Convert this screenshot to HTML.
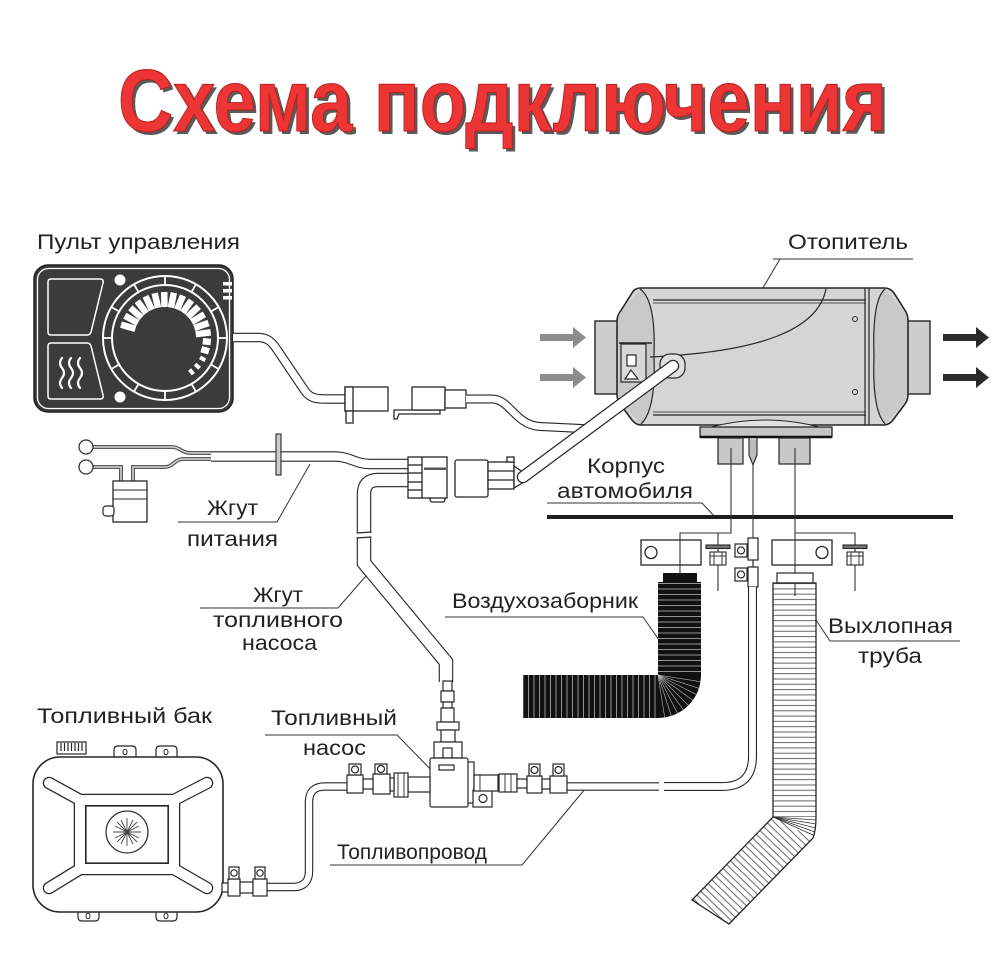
<!DOCTYPE html>
<html><head><meta charset="utf-8"><style>
html,body{margin:0;padding:0;background:#fff;}
svg{display:block;}
text{font-family:"Liberation Sans",sans-serif;fill:#222;}
.lb{font-size:21px;}
</style></head><body>
<svg width="1000" height="971" viewBox="0 0 1000 971" xmlns="http://www.w3.org/2000/svg">
<defs>
<pattern id="exH" patternUnits="userSpaceOnUse" width="10" height="5.3"><rect width="10" height="5.3" fill="#fff"/><line x1="0" y1="0.6" x2="10" y2="0.6" stroke="#555" stroke-width="0.9"/></pattern>
<pattern id="exA" patternUnits="userSpaceOnUse" width="10" height="5.3" patternTransform="rotate(44)"><rect width="10" height="5.3" fill="#fff"/><line x1="0" y1="0.6" x2="10" y2="0.6" stroke="#555" stroke-width="0.9"/></pattern>
<pattern id="inH" patternUnits="userSpaceOnUse" width="10" height="5.5"><rect width="10" height="5.5" fill="#111"/><line x1="0" y1="0.5" x2="10" y2="0.5" stroke="#ccc" stroke-width="0.7"/></pattern>
<pattern id="inV" patternUnits="userSpaceOnUse" width="5.5" height="10"><rect width="5.5" height="10" fill="#111"/><line x1="0.5" y1="0" x2="0.5" y2="10" stroke="#ccc" stroke-width="0.7"/></pattern>
</defs>

<!-- Title -->
<text x="121" y="134" font-size="88" font-weight="bold" style="fill:#5a5a5a" textLength="769" lengthAdjust="spacingAndGlyphs">Схема подключения</text>
<text x="118" y="131" font-size="88" font-weight="bold" style="fill:#ee3535" stroke="#b81f1f" stroke-width="1" textLength="769" lengthAdjust="spacingAndGlyphs">Схема подключения</text>

<!-- Labels -->
<text class="lb" x="37" y="249" textLength="203" lengthAdjust="spacingAndGlyphs">Пульт управления</text>
<text class="lb" x="788" y="249" textLength="120" lengthAdjust="spacingAndGlyphs">Отопитель</text>
<text class="lb" x="587" y="473" textLength="78" lengthAdjust="spacingAndGlyphs">Корпус</text>
<text class="lb" x="557" y="498" textLength="136" lengthAdjust="spacingAndGlyphs">автомобиля</text>
<text class="lb" x="207" y="515" textLength="51" lengthAdjust="spacingAndGlyphs">Жгут</text>
<text class="lb" x="187" y="546" textLength="91" lengthAdjust="spacingAndGlyphs">питания</text>
<text class="lb" x="253" y="602" textLength="50" lengthAdjust="spacingAndGlyphs">Жгут</text>
<text class="lb" x="213" y="627" textLength="130" lengthAdjust="spacingAndGlyphs">топливного</text>
<text class="lb" x="242" y="650" textLength="75" lengthAdjust="spacingAndGlyphs">насоса</text>
<text class="lb" x="37" y="723" textLength="175" lengthAdjust="spacingAndGlyphs">Топливный бак</text>
<text class="lb" x="271" y="725" textLength="126" lengthAdjust="spacingAndGlyphs">Топливный</text>
<text class="lb" x="303" y="755" textLength="63" lengthAdjust="spacingAndGlyphs">насос</text>
<text class="lb" x="337" y="859" textLength="150" lengthAdjust="spacingAndGlyphs">Топливопровод</text>
<text class="lb" x="452" y="608" textLength="186" lengthAdjust="spacingAndGlyphs">Воздухозаборник</text>
<text class="lb" x="828" y="633" textLength="125" lengthAdjust="spacingAndGlyphs">Выхлопная</text>
<text class="lb" x="858" y="663" textLength="64" lengthAdjust="spacingAndGlyphs">труба</text>

<!-- Leader lines -->
<g fill="none" stroke="#333" stroke-width="1">
<path d="M773,259 L913,259 M780,259 L722,357"/>
<path d="M547,503 L702,503 L715,517"/>
<path d="M178,522 L277,522 L310,464"/>
<path d="M200,608 L338,608 L372,569"/>
<path d="M265,735 L397,735 L442,781"/>
<path d="M330,865 L522,865 L585,789"/>
<path d="M445,617 L643,617 L659,640"/>
<path d="M816,620 L830,641 L960,641"/>
</g>

<!-- Control panel -->
<rect x="34" y="265" width="199" height="147" rx="14" fill="#3b3b3b" stroke="#222" stroke-width="1.5"/>
<rect x="37.5" y="268.5" width="192" height="140" rx="11" fill="none" stroke="#fff" stroke-width="1.3"/>
<g fill="none" stroke="#fff" stroke-width="1.5">
<path d="M51,279 L100,279 Q104,279 103,283 L91,332 Q90,335 87,335 L51,335 Q48,335 48,332 L48,282 Q48,279 51,279 Z"/>
<path d="M51,343 L87,343 Q90,343 91,346 L103,395 Q104,399 100,399 L51,399 Q48,399 48,396 L48,346 Q48,343 51,343 Z"/>
<circle cx="165" cy="338" r="62" stroke-width="2"/>
<circle cx="165" cy="338" r="53" stroke-width="2"/>
</g>
<g fill="none" stroke="#fff" stroke-width="2.2" stroke-linecap="round">
<path d="M62,358 q-4,5 0,10 q4,5 0,10 q-4,5 0,10"/>
<path d="M71,358 q-4,5 0,10 q4,5 0,10 q-4,5 0,10"/>
<path d="M80,358 q-4,5 0,10 q4,5 0,10 q-4,5 0,10"/>
</g>
<circle cx="120" cy="280" r="5.5" fill="#fff"/>
<circle cx="120" cy="397" r="5.5" fill="#fff"/>
<rect x="223" y="282" width="9" height="3.5" fill="#fff"/>
<rect x="223" y="289" width="9" height="3.5" fill="#fff"/>
<rect x="223" y="296" width="9" height="3.5" fill="#fff"/>
<g stroke="#fff" stroke-width="1.8">
<line x1="218" y1="338" x2="227" y2="338"/>
<line x1="210.9" y1="364.5" x2="218.7" y2="369"/>
<line x1="191.5" y1="383.9" x2="196" y2="391.7"/>
<line x1="165" y1="391" x2="165" y2="400"/>
<line x1="138.5" y1="383.9" x2="134" y2="391.7"/>
<line x1="119.1" y1="364.5" x2="111.3" y2="369"/>
<line x1="112" y1="338" x2="103" y2="338"/>
<line x1="119.1" y1="311.5" x2="111.3" y2="307"/>
<line x1="138.5" y1="292.1" x2="134" y2="284.3"/>
<line x1="165" y1="285" x2="165" y2="276"/>
<line x1="191.5" y1="292.1" x2="196" y2="284.3"/>
<line x1="210.9" y1="311.5" x2="218.7" y2="307"/>
</g>
<g stroke="#fff" stroke-width="6.5">
<line x1="135.4" y1="328.9" x2="121" y2="324.6"/>
<line x1="137.9" y1="323" x2="124.8" y2="315.7"/>
<line x1="141.6" y1="317.7" x2="130.3" y2="307.8"/>
<line x1="146.3" y1="313.2" x2="137.3" y2="301.2"/>
<line x1="151.9" y1="309.9" x2="145.5" y2="296.3"/>
<line x1="158" y1="307.8" x2="154.7" y2="293.2"/>
<line x1="164.5" y1="307" x2="164.2" y2="292"/>
<line x1="170.9" y1="307.6" x2="173.8" y2="292.8"/>
<line x1="177.1" y1="309.5" x2="183" y2="295.6"/>
<line x1="182.8" y1="312.6" x2="191.4" y2="300.3"/>
<line x1="187.7" y1="316.9" x2="198.6" y2="306.6"/>
<line x1="191.6" y1="322" x2="204.4" y2="314.3"/>
<line x1="194.3" y1="327.9" x2="208.5" y2="323"/>
<line x1="195.8" y1="334.2" x2="210.7" y2="332.4"/>
<line x1="202.8" y1="341.3" x2="210.8" y2="342"/>
<line x1="201.3" y1="349.1" x2="209" y2="351.4"/>
</g>
<g stroke="#fff" stroke-width="4">
<line x1="200" y1="357.4" x2="205.3" y2="360.3"/>
<line x1="195.2" y1="364.2" x2="199.7" y2="368.2"/>
<line x1="189.6" y1="369.5" x2="193.3" y2="374.2"/>
</g>

<!-- Panel cable -->
<path d="M233,337.5 L258,337.5 C268,337.5 272,342 278,351 L305,391 C310,398 316,399 325,399 L346,399" fill="none" stroke="#262626" stroke-width="9.5"/>
<path d="M233,337.5 L258,337.5 C268,337.5 272,342 278,351 L305,391 C310,398 316,399 325,399 L346,399" fill="none" stroke="#fff" stroke-width="7.3"/>

<!-- Connector 1 -->
<g fill="#fff" stroke="#262626" stroke-width="1.3">
<rect x="345" y="387" width="43" height="24"/>
<rect x="345" y="387" width="8" height="24"/>
<rect x="346" y="411" width="7" height="12"/>
</g>
<!-- Connector 2 -->
<g fill="#fff" stroke="#262626" stroke-width="1.3">
<path d="M394,410 L440,410 L440,414 L399,414 L397,419 L394,419 Z"/>
<rect x="412" y="387" width="33" height="23"/>
<rect x="445" y="390" width="21" height="18"/>
</g>
<!-- thin cable from connector 2 -->
<path d="M466,399 L492,399 C510,399 515,425 540,426.5 L592,429" fill="none" stroke="#262626" stroke-width="9"/>
<path d="M466,399 L492,399 C510,399 515,425 540,426.5 L592,429" fill="none" stroke="#fff" stroke-width="6.8"/>

<!-- Power harness -->
<g fill="none" stroke="#444" stroke-width="3.8">
<path d="M92,447 L172,447 C180,447 182,453 190,453 L212,453"/>
<path d="M92,467 L121,467 L121,482"/>
<path d="M133,482 L133,467 L165,467 C173,467 175,459 183,459 L212,459"/>
</g>
<g fill="none" stroke="#c8c8c8" stroke-width="1.8">
<path d="M92,447 L172,447 C180,447 182,453 190,453 L212,453"/>
<path d="M92,467 L121,467 L121,482"/>
<path d="M133,482 L133,467 L165,467 C173,467 175,459 183,459 L212,459"/>
</g>
<circle cx="86" cy="447" r="7" fill="#fff" stroke="#333" stroke-width="1.3"/>
<circle cx="86" cy="467" r="7" fill="#fff" stroke="#333" stroke-width="1.3"/>
<rect x="113" y="481" width="34" height="41" fill="#fff" stroke="#262626" stroke-width="1.3"/>
<line x1="113" y1="490" x2="147" y2="490" stroke="#262626"/>
<line x1="113" y1="499" x2="147" y2="499" stroke="#262626"/>
<rect x="103" y="506" width="11" height="10" rx="3" fill="#fff" stroke="#262626" stroke-width="1.2"/>
<path d="M211,456.5 L335,456.5 C350,456.5 355,464 370,464 L409,464" fill="none" stroke="#262626" stroke-width="10.5"/>
<path d="M211,456.5 L335,456.5 C350,456.5 355,464 370,464 L409,464" fill="none" stroke="#fff" stroke-width="8.3"/>
<rect x="276" y="434" width="5" height="41" fill="#ccc" stroke="#262626" stroke-width="1.1"/>

<!-- Pump harness -->
<path d="M409,480 L378,480 Q364,480 364,494 L364,533" fill="none" stroke="#262626" stroke-width="14.5"/>
<path d="M409,480 L378,480 Q364,480 364,494 L364,533" fill="none" stroke="#fff" stroke-width="12.3"/>
<path d="M364,537 L364,563 L446,662 L446,682" fill="none" stroke="#262626" stroke-width="14.5"/>
<path d="M364,537 L364,563 L446,662 L446,682" fill="none" stroke="#fff" stroke-width="12.3"/>
<line x1="356.7" y1="533" x2="371.3" y2="532" stroke="#262626" stroke-width="1.2"/>
<line x1="356.7" y1="538" x2="371.3" y2="537" stroke="#262626" stroke-width="1.2"/>

<!-- Connector 3 -->
<g fill="#fff" stroke="#262626" stroke-width="1.3">
<rect x="430" y="496" width="15" height="6" rx="2.5"/>
<rect x="408" y="457" width="39" height="41"/>
<line x1="422" y1="457" x2="422" y2="498"/>
<line x1="408" y1="465" x2="422" y2="465"/>
<line x1="408" y1="473" x2="422" y2="473"/>
<line x1="408" y1="482" x2="422" y2="482"/>
<line x1="408" y1="490" x2="422" y2="490"/>
</g>
<rect x="424" y="467.5" width="22" height="2.5" fill="#555"/>
<!-- Connector 4 -->
<g fill="#fff" stroke="#262626" stroke-width="1.3">
<rect x="455" y="460" width="33" height="37" rx="2"/>
<rect x="488" y="462" width="26" height="27"/>
<line x1="488" y1="471" x2="514" y2="471"/>
<line x1="488" y1="480" x2="514" y2="480"/>
<rect x="507" y="457" width="7" height="5"/>
<path d="M514,466 L524,473 L524,482 L514,488 Z"/>
</g>

<!-- Arrows -->
<g fill="#8c8c8c">
<rect x="540" y="334" width="34" height="7"/><polygon points="573,327 586,337.5 573,348"/>
<rect x="540" y="374" width="34" height="7"/><polygon points="573,367 586,377.5 573,388"/>
</g>
<g fill="#2a2a2a">
<rect x="943" y="334" width="34" height="7"/><polygon points="976,327 989,337.5 976,348"/>
<rect x="943" y="374" width="34" height="7"/><polygon points="976,367 989,377.5 976,388"/>
</g>

<!-- Heater -->
<rect x="595" y="321" width="24" height="73" fill="#cdcdcd" stroke="#262626" stroke-width="1.4"/>
<rect x="906" y="321" width="24" height="73" fill="#cdcdcd" stroke="#262626" stroke-width="1.4"/>
<path d="M640,288 L885,288 Q890,288 894,293 L906,312 Q908,316 908,321 L908,394 Q908,400 905,404 L893,420 Q889,425 884,425 L641,425 Q636,425 632,420 L620,404 Q617,400 617,394 L617,321 Q617,316 620,312 L632,293 Q635,288 640,288 Z" fill="#d5d5d5" stroke="#262626" stroke-width="1.6"/>
<path d="M640,289 L620,313 Q618,316 618,321 L618,394 Q618,400 621,404 L641,424 Q656,410 654,356 Q656,300 640,289 Z" fill="#c9c9c9"/>
<path d="M885,289 L905,313 Q907,316 907,321 L907,394 Q907,400 904,404 L885,424 Q872,410 874,356 Q872,300 885,289 Z" fill="#c9c9c9"/>
<g fill="none" stroke="#262626" stroke-width="1.2">
<path d="M640,289 Q656,300 654,356 Q656,410 641,424"/>
<path d="M885,289 Q872,300 874,356 Q872,410 885,424"/>
<line x1="653" y1="300" x2="866" y2="300"/>
<line x1="653" y1="303" x2="866" y2="303" stroke-width="0.7"/>
<line x1="653" y1="412" x2="866" y2="412" stroke-width="0.7"/>
<line x1="653" y1="415" x2="866" y2="415"/>
<line x1="865" y1="288" x2="865" y2="425"/>
<line x1="869" y1="288" x2="869" y2="425"/>
<path d="M826,289 C818,330 760,352 650,357"/>
</g>
<circle cx="855" cy="319" r="2.5" fill="none" stroke="#262626"/>
<circle cx="855" cy="392" r="2.5" fill="none" stroke="#262626"/>
<g fill="#d8d8d8" stroke="#262626" stroke-width="1.2">
<rect x="621" y="344" width="25" height="38"/>
<rect x="627" y="355" width="9" height="11" fill="#fff"/>
<path d="M625,379 L631,370 L638,379 Z" fill="#fff"/>
<rect x="660" y="354" width="25" height="24" rx="10" fill="#e0e0e0"/>
</g>
<line x1="619" y1="343" x2="652" y2="343" stroke="#262626" stroke-width="1.5"/>
<!-- thick heater cable -->
<path d="M523,477 L673,366" fill="none" stroke="#262626" stroke-width="12.5" stroke-linecap="round"/>
<path d="M523,477 L673,366" fill="none" stroke="#fff" stroke-width="10" stroke-linecap="round"/>
<!-- mount plate and pipes -->
<path d="M707,428 Q765,412 823,428 Z" fill="#e2e2e2" stroke="#262626" stroke-width="1.1"/>
<rect x="700" y="427" width="132" height="10" fill="#c4c4c4" stroke="#262626" stroke-width="1.3"/>
<line x1="700" y1="437" x2="832" y2="437" stroke="#111" stroke-width="2.5"/>
<rect x="718" y="438" width="25" height="26" fill="#c8c8c8" stroke="#262626" stroke-width="1.2"/>
<rect x="779" y="438" width="31" height="26" fill="#c8c8c8" stroke="#262626" stroke-width="1.2"/>
<path d="M749,438 L749,455 L753,465 L757,455 L757,438" fill="#bdbdbd" stroke="#262626" stroke-width="1.1"/>

<!-- Car body line -->
<rect x="547" y="515" width="406" height="4" fill="#1e1e1e"/>

<!-- vertical connection lines -->
<g stroke="#333" stroke-width="1.1" fill="none">
<path d="M731,448 L731,533 L680,533 L680,580"/>
<path d="M718,533 L718,591"/>
<path d="M795,448 L795,596"/>
<path d="M795,533 L855,533 L855,591"/>
<path d="M753,464 L753,538"/>
</g>

<!-- Brackets and screws -->
<g fill="#fff" stroke="#262626" stroke-width="1.3">
<rect x="641" y="540" width="60" height="25"/>
<circle cx="651" cy="552.5" r="6"/>
<rect x="772" y="540" width="60" height="25"/>
<circle cx="822" cy="552.5" r="6"/>
</g>
<line x1="680" y1="540" x2="680" y2="565" stroke="#333" stroke-width="1.1"/>
<line x1="795" y1="540" x2="795" y2="565" stroke="#333" stroke-width="1.1"/>
<g fill="#fff" stroke="#262626" stroke-width="1.1">
<rect x="706" y="545" width="24" height="3.5" fill="#777"/>
<rect x="710" y="552" width="16" height="13"/>
<rect x="843" y="545" width="24" height="3.5" fill="#777"/>
<rect x="847" y="552" width="16" height="13"/>
</g>
<g stroke="#262626" stroke-width="0.9">
<line x1="714" y1="552" x2="714" y2="565"/><line x1="722" y1="552" x2="722" y2="565"/>
<line x1="851" y1="552" x2="851" y2="565"/><line x1="859" y1="552" x2="859" y2="565"/>
<line x1="710" y1="556" x2="726" y2="556"/><line x1="847" y1="556" x2="863" y2="556"/>
</g>

<!-- Intake hose (black) -->
<rect x="663" y="573" width="34" height="9" fill="#111"/>
<rect x="658" y="582" width="43" height="94" fill="url(#inH)"/>
<rect x="523" y="675" width="136" height="43" fill="url(#inV)"/>
<path d="M658,675 L701,675 A43,43 0 0 1 658,718 Z" fill="#111"/>
<g stroke="#bbb" stroke-width="0.6">
<line x1="658" y1="675" x2="700.5" y2="681.7"/>
<line x1="658" y1="675" x2="698.9" y2="688.3"/>
<line x1="658" y1="675" x2="696.3" y2="694.5"/>
<line x1="658" y1="675" x2="692.8" y2="700.3"/>
<line x1="658" y1="675" x2="688.4" y2="705.4"/>
<line x1="658" y1="675" x2="683.3" y2="709.8"/>
<line x1="658" y1="675" x2="677.5" y2="713.3"/>
<line x1="658" y1="675" x2="671.3" y2="715.9"/>
<line x1="658" y1="675" x2="664.7" y2="717.5"/>
</g>

<!-- Exhaust hose -->
<rect x="777" y="573" width="36" height="10" fill="#fff" stroke="#262626" stroke-width="1.2"/>
<path d="M773,817 L773,583 L816,583 L816,817" fill="url(#exH)" stroke="#262626" stroke-width="1.3"/>
<path d="M773,817 L692,900 L729,924 L813,838" fill="url(#exA)" stroke="#262626" stroke-width="1.3"/>
<path d="M773,817 L816,817 Q816,830 813,838 Z" fill="#fff"/>
<path d="M816,817 Q816,830 813,838" fill="none" stroke="#262626" stroke-width="1.3"/>
<g stroke="#333" stroke-width="0.7">
<line x1="773" y1="817" x2="816" y2="820"/>
<line x1="773" y1="817" x2="816" y2="824"/>
<line x1="773" y1="817" x2="815.6" y2="828"/>
<line x1="773" y1="817" x2="815" y2="832"/>
<line x1="773" y1="817" x2="814" y2="835.5"/>
</g>
<line x1="795" y1="583" x2="795" y2="596" stroke="#333" stroke-width="1.1"/>

<!-- Fuel line vertical connector -->
<g fill="#fff" stroke="#262626" stroke-width="1.2">
<rect x="748" y="538" width="10" height="22"/>
<rect x="748" y="567" width="10" height="20"/>
<rect x="735" y="544" width="12" height="13"/>
<circle cx="741" cy="550.5" r="3.5"/>
<rect x="735" y="568" width="12" height="13"/>
<circle cx="741" cy="574.5" r="3.5"/>
</g>
<line x1="753" y1="560" x2="753" y2="567" stroke="#262626" stroke-width="1.2"/>

<!-- Fuel pipes -->
<path d="M567,786.5 L659,786.5" fill="none" stroke="#262626" stroke-width="8.5"/>
<path d="M567,786.5 L659,786.5" fill="none" stroke="#fff" stroke-width="6.3"/>
<path d="M664,786.5 L722,786.5 Q752.5,786.5 752.5,756 L752.5,587" fill="none" stroke="#262626" stroke-width="9"/>
<path d="M664,786.5 L722,786.5 Q752.5,786.5 752.5,756 L752.5,587" fill="none" stroke="#fff" stroke-width="6.8"/>
<path d="M347,786.5 L325,786.5 Q309,786.5 309,802 L309,871 Q309,887 293,887 L266,887" fill="none" stroke="#262626" stroke-width="8.5"/>
<path d="M347,786.5 L325,786.5 Q309,786.5 309,802 L309,871 Q309,887 293,887 L266,887" fill="none" stroke="#fff" stroke-width="6.3"/>

<!-- Pump assembly -->
<g fill="#fff" stroke="#262626" stroke-width="1.2">
<rect x="443" y="681" width="9" height="10"/>
<rect x="441" y="691" width="13" height="11"/>
<rect x="443" y="702" width="9" height="6"/>
<rect x="441" y="708" width="13" height="14"/>
<rect x="437" y="722" width="22" height="8"/>
<rect x="441" y="730" width="14" height="12"/>
<rect x="434" y="742" width="28" height="16"/>
<rect x="443" y="748" width="9" height="10"/>
<rect x="466" y="762" width="8" height="41"/>
<rect x="473" y="790" width="19" height="17"/>
<circle cx="483" cy="798.5" r="4"/>
<rect x="430" y="758" width="38" height="49" rx="2"/>
<rect x="439" y="765" width="15" height="5"/>
<rect x="474" y="775" width="24" height="16"/>
<rect x="499" y="774" width="18" height="18"/>
<rect x="517" y="779" width="10" height="9"/>
<rect x="527" y="776" width="15" height="17"/>
<rect x="529" y="764" width="11" height="12"/>
<circle cx="534.5" cy="770" r="3.5"/>
<rect x="550" y="776" width="17" height="17"/>
<rect x="553" y="764" width="11" height="12"/>
<circle cx="558.5" cy="770" r="3.5"/>
<rect x="542" y="779" width="8" height="10"/>
<rect x="408" y="777" width="22" height="15"/>
<rect x="394" y="773" width="14" height="24"/>
<rect x="390" y="778" width="4" height="13"/>
<rect x="373" y="774" width="17" height="20"/>
<rect x="375" y="764" width="12" height="10"/>
<circle cx="381" cy="769" r="3.5"/>
<rect x="363" y="779" width="10" height="10"/>
<rect x="347" y="775" width="16" height="18"/>
<rect x="349" y="764" width="12" height="11"/>
<circle cx="355" cy="769.5" r="3.5"/>
</g>
<g stroke="#262626" stroke-width="0.9">
<line x1="398" y1="773" x2="398" y2="797"/><line x1="404" y1="773" x2="404" y2="797"/>
<line x1="505" y1="774" x2="505" y2="792"/><line x1="511" y1="774" x2="511" y2="792"/>
<line x1="480" y1="775" x2="480" y2="791"/>
</g>

<!-- Fuel tank -->
<path d="M114,757 L114,750 Q114,746 118,746 L132,746 Q136,746 136,750 L136,757" fill="#fff" stroke="#262626" stroke-width="1.2"/>
<path d="M156,757 L156,750 Q156,746 160,746 L173,746 Q177,746 177,750 L177,757" fill="#fff" stroke="#262626" stroke-width="1.2"/>
<path d="M78,912 L78,917 Q78,921 82,921 L95,921 Q99,921 99,917 L99,912" fill="#fff" stroke="#262626" stroke-width="1.2"/>
<path d="M156,912 L156,917 Q156,921 160,921 L173,921 Q177,921 177,917 L177,912" fill="#fff" stroke="#262626" stroke-width="1.2"/>
<ellipse cx="125" cy="752" rx="2" ry="2.7" fill="none" stroke="#262626"/>
<ellipse cx="166" cy="752" rx="2" ry="2.7" fill="none" stroke="#262626"/>
<ellipse cx="88" cy="916" rx="2" ry="2.7" fill="none" stroke="#262626"/>
<ellipse cx="166" cy="916" rx="2" ry="2.7" fill="none" stroke="#262626"/>
<rect x="57" y="742" width="29" height="12" fill="#fff" stroke="#262626" stroke-width="1.2"/>
<g stroke="#262626" stroke-width="1.2">
<line x1="61" y1="743" x2="61" y2="751"/><line x1="64.5" y1="743" x2="64.5" y2="751"/>
<line x1="68" y1="743" x2="68" y2="751"/><line x1="71.5" y1="743" x2="71.5" y2="751"/>
<line x1="75" y1="743" x2="75" y2="751"/><line x1="78.5" y1="743" x2="78.5" y2="751"/>
<line x1="82" y1="743" x2="82" y2="751"/>
</g>
<rect x="33" y="757" width="190" height="155" rx="27" fill="#fff" stroke="#262626" stroke-width="1.6"/>
<path d="M49,783 L80,800 L174,800 L207,783 M80,800 L80,869 M174,800 L174,869 M49,888 L80,869 L174,869 L207,888" fill="none" stroke="#262626" stroke-width="12.5" stroke-linecap="round" stroke-linejoin="round"/>
<path d="M49,783 L80,800 L174,800 L207,783 M80,800 L80,869 M174,800 L174,869 M49,888 L80,869 L174,869 L207,888" fill="none" stroke="#fff" stroke-width="10" stroke-linecap="round" stroke-linejoin="round"/>
<rect x="86" y="806" width="82" height="57" fill="#fff" stroke="#262626" stroke-width="1.2"/>
<circle cx="127" cy="832" r="21" fill="#fff" stroke="#333" stroke-width="1.3"/>
<g stroke="#444" stroke-width="0.9">
<line x1="113" y1="832" x2="141" y2="832"/>
<line x1="127" y1="818" x2="127" y2="846"/>
<line x1="117" y1="822" x2="137" y2="842"/>
<line x1="137" y1="822" x2="117" y2="842"/>
<line x1="115" y1="826" x2="139" y2="838"/>
<line x1="121" y1="820" x2="133" y2="844"/>
<line x1="139" y1="826" x2="115" y2="838"/>
<line x1="133" y1="820" x2="121" y2="844"/>
</g>
<g fill="#fff" stroke="#262626" stroke-width="1.2">
<rect x="222" y="883" width="7" height="9"/>
<rect x="228" y="879" width="12" height="17"/>
<rect x="229" y="867" width="10" height="12"/>
<circle cx="234" cy="873" r="3.2"/>
<rect x="240" y="882" width="13" height="11"/>
<rect x="253" y="879" width="14" height="17"/>
<rect x="255" y="867" width="10" height="12"/>
<circle cx="260" cy="873" r="3.2"/>
</g>
</svg>
</body></html>
